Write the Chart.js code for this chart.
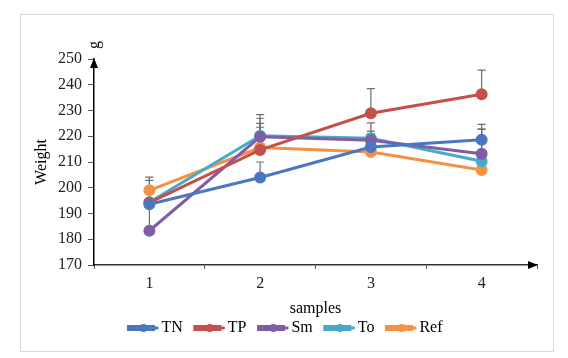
<!DOCTYPE html>
<html>
<head>
<meta charset="utf-8">
<script src="https://cdn.jsdelivr.net/npm/chart.js@4"></script>
<style>
html,body{margin:0;padding:0;background:#fff;}
#wrap{width:568px;height:358px;}
</style>
</head>
<body>
<div id="wrap"><canvas id="c" width="568" height="358"></canvas></div>
<script>
const categories = ['1', '2', '3', '4'];
const seriesNames = ['TN', 'TP', 'Sm', 'To', 'Ref'];
const TN  = [193.6, 204.0, 215.8, 218.6];
const TP  = [194.2, 214.7, 228.9, 236.3];
const Sm  = [183.3, 219.8, 218.4, 213.2];
const To  = [194.4, 220.2, 219.2, 210.3];
const Ref = [199.0, 215.6, 213.9, 206.9];
// upper error bar extents (value units)
const errTN  = [0, 6.0, 5.2, 6.0];
const errTP  = [0, 10.3, 9.6, 9.4];
const errSm  = [20.8, 7.2, 3.6, 9.6];
const errTo  = [0, 8.2, 6.0, 12.5];
const errRef = [3.9, 7.9, 0, 0];
const yTicks = [170, 180, 190, 200, 210, 220, 230, 240, 250];
const colors = ['#4A76C2', '#C3504C', '#7E5EA6', '#49AAC5', '#F59142'];

const values = [TN, TP, Sm, To, Ref];
const errs = [errTN, errTP, errSm, errTo, errRef];
const serif = '"Liberation Serif", "Times New Roman", serif';

const framePlugin = {
  id: 'frame',
  beforeDraw(chart) {
    const ctx = chart.ctx;
    ctx.save();
    ctx.fillStyle = '#fff';
    ctx.fillRect(0, 0, chart.width, chart.height);
    ctx.strokeStyle = '#d9d9d9';
    ctx.lineWidth = 1;
    ctx.strokeRect(20.5, 14.5, 533, 337);
    ctx.restore();
  }
};

const errPlugin = {
  id: 'errbars',
  beforeDatasetsDraw(chart) {
    const ctx = chart.ctx;
    const xs = chart.scales.x, ys = chart.scales.y;
    ctx.save();
    ctx.strokeStyle = '#6e6e6e';
    ctx.lineWidth = 1.2;
    values.forEach((arr, si) => {
      arr.forEach((v, i) => {
        const e = errs[si][i];
        if (!e) return;
        const x = xs.getPixelForValue(i);
        const y0 = ys.getPixelForValue(v);
        const y1 = ys.getPixelForValue(v + e);
        ctx.beginPath();
        ctx.moveTo(x, y0); ctx.lineTo(x, y1);
        ctx.moveTo(x - 4, y1); ctx.lineTo(x + 4, y1);
        ctx.stroke();
      });
    });
    ctx.restore();
  }
};

const axisPlugin = {
  id: 'axisArrows',
  afterDraw(chart) {
    const ctx = chart.ctx;
    const a = chart.chartArea;
    ctx.save();
    ctx.fillStyle = '#000';
    // y arrow
    ctx.beginPath();
    ctx.moveTo(a.left, a.top - 1);
    ctx.lineTo(a.left - 4, a.top + 9);
    ctx.lineTo(a.left + 4, a.top + 9);
    ctx.closePath();
    ctx.fill();
    // x arrow
    ctx.beginPath();
    ctx.moveTo(a.right + 1, a.bottom);
    ctx.lineTo(a.right - 9, a.bottom - 4);
    ctx.lineTo(a.right - 9, a.bottom + 4);
    ctx.closePath();
    ctx.fill();
    // unit label
    ctx.translate(a.left + 1, a.top - 14);
    ctx.rotate(-Math.PI / 2);
    ctx.fillStyle = '#000';
    ctx.font = '16px ' + serif;
    ctx.textAlign = 'center';
    ctx.textBaseline = 'middle';
    ctx.fillText('g', 0, 0);
    ctx.restore();
    // legend line extension + markers
    const lg = chart.legend;
    if (lg && lg.legendHitBoxes) {
      ctx.save();
      lg.legendHitBoxes.forEach((b, i) => {
        const cy = b.top + b.height / 2;
        ctx.fillStyle = colors[i];
        ctx.fillRect(b.left + 24, cy - 1.5, 6, 3);
        ctx.beginPath();
        ctx.arc(b.left + 15, cy, 4, 0, Math.PI * 2);
        ctx.fill();
      });
      ctx.restore();
    }
  }
};

new Chart(document.getElementById('c'), {
  type: 'line',
  data: {
    labels: categories,
    datasets: seriesNames.map((n, i) => ({
      label: n,
      data: values[i],
      borderColor: colors[i],
      backgroundColor: colors[i],
      pointBackgroundColor: colors[i],
      pointBorderColor: colors[i],
      borderWidth: 3,
      pointRadius: 4.5,
      tension: 0
    }))
  },
  options: {
    responsive: false,
    animation: false,
    layout: { padding: { left: 34, right: 31, top: 59, bottom: 12 } },
    plugins: {
      legend: {
        position: 'bottom',
        labels: {
          font: { family: serif, size: 16 },
          color: '#000',
          boxWidth: 25,
          boxHeight: 3,
          padding: 12
        }
      },
      tooltip: { enabled: false }
    },
    scales: {
      x: {
        offset: true,
        grid: { display: true, drawOnChartArea: false, drawTicks: true, tickLength: 4, offset: true, color: '#555' },
        border: { display: true, color: '#333', width: 1.5 },
        ticks: { font: { family: serif, size: 16 }, color: '#222', padding: 5 },
        title: { display: true, text: 'samples', font: { family: serif, size: 16 }, color: '#000', padding: { top: 0, bottom: -10 } },
        afterFit(s) { s.height = 43; }
      },
      y: {
        min: 170, max: 250,
        afterBuildTicks(s) { s.ticks = yTicks.map(v => ({ value: v })); },
        grid: { display: true, drawOnChartArea: false, drawTicks: true, tickLength: 6, color: '#555' },
        border: { display: true, color: '#000', width: 1.5 },
        ticks: { font: { family: serif, size: 16 }, color: '#222', padding: 6 },
        title: { display: true, text: 'Weight', font: { family: serif, size: 16 }, color: '#000', padding: { top: -2, bottom: 0 } },
        afterFit(s) { s.width = 60; }
      }
    }
  },
  plugins: [framePlugin, errPlugin, axisPlugin]
});
</script>
</body>
</html>
